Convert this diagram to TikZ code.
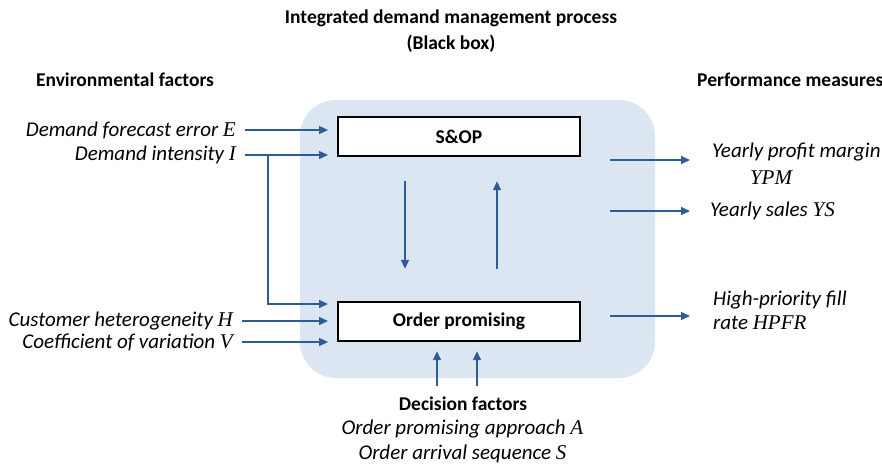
\documentclass[tikz,border=0pt]{standalone}
\usepackage{fontspec}
\setmainfont{Carlito}
\newfontfamily\varfont{Liberation Serif}
\usetikzlibrary{arrows.meta,calc}
\definecolor{arrowblue}{HTML}{2F5C99}
\definecolor{boxfill}{HTML}{DCE6F2}
\newcommand{\vv}[1]{{\varfont\itshape #1}}

\begin{document}
\begin{tikzpicture}[x=1pt,y=-1pt,
  txt/.style={font=\fontsize{21}{24}\selectfont, inner sep=0pt},
  lab/.style={txt, font=\fontsize{21}{24}\selectfont\itshape},
  head/.style={txt, font=\fontsize{19.5}{26}\selectfont\bfseries, align=center},
  procbox/.style={draw=black, line width=2.4pt, fill=white, minimum width=242pt,
    minimum height=39pt, inner sep=0pt, font=\fontsize{19.5}{22}\selectfont\bfseries},
  arr/.style={draw=arrowblue, line width=1.4pt, -{Triangle[length=9pt,width=8pt]}}
]
\useasboundingbox (0,0) rectangle (882,467);

% black-box background
\node[fill=boxfill, rounded corners=36pt, minimum width=355pt, minimum height=278pt,
  inner sep=0pt] (bb) at (477.5,239) {};

% headings
\node[head] (title) at (451,31) {Integrated demand management process\\(Black box)};
\node[head] (env) at (125,80) {Environmental factors};
\node[head, anchor=west] (perf) at (697,80) {Performance measures};

% process boxes
\node[procbox] (sop) at (459,136.5) {S\&OP};
\node[procbox] (op) at (459,321.5) {Order promising};

% environmental factors
\node[lab, anchor=east] (E) at (236,130) {Demand forecast error \vv{E}};
\node[lab, anchor=east] (I) at (236,155) {Demand intensity \vv{I}};
\node[lab, anchor=east] (H) at (233,321) {Customer heterogeneity \vv{H}};
\node[lab, anchor=east] (V) at (233,342) {Coefficient of variation \vv{V}};

\coordinate (inL) at (328,0);
\draw[arr, shorten <=9pt] (E.east) -- (E.east -| inL);
\draw[arr, shorten <=9pt] (I.east) -- (I.east -| inL);
\draw[arr, shorten <=9pt] (H.east) -- (H.east -| inL);
\draw[arr, shorten <=9pt] (V.east) -- (V.east -| inL);
\coordinate (split) at (268,155);
\coordinate (opin) at (328,304);
\draw[arr] (split) |- (opin);

% internal coordination arrows
\draw[arr] ($(sop.south)+(-54,24)$) -- ($(op.north)+(-54,-32)$);
\draw[arr] ($(op.north)+(38,-32)$) -- ($(sop.south)+(38,24)$);

% decision factors
\node[head] (dec) at (463,404) {Decision factors};
\node[lab] (A) at (462.5,429) {Order promising approach \vv{A}};
\node[lab] (S) at (462.5,454) {Order arrival sequence \vv{S}};
\draw[arr] ($(op.south)+(-22,44)$) -- ($(op.south)+(-22,9)$);
\draw[arr] ($(op.south)+(18,44)$) -- ($(op.south)+(18,9)$);

% performance measures
\node[lab, anchor=west] (ypm1) at (712,152) {Yearly profit margin};
\node[txt] (ypm2) at (771,178) {\vv{YPM}};
\node[lab, anchor=west] (ys) at (710,211) {Yearly sales \vv{YS}};
\node[lab, anchor=west, align=left] (hp) at (713,310) {High-priority fill\\rate \vv{HPFR}};

\coordinate (outS) at (610,0);
\coordinate (outE) at (690,0);
\draw[arr] (outS |- 0,160) -- (outE |- 0,160);
\draw[arr] (outS |- ys.west) -- (outE |- ys.west);
\draw[arr] (outS |- 0,316) -- (outE |- 0,316);
\end{tikzpicture}
\end{document}
